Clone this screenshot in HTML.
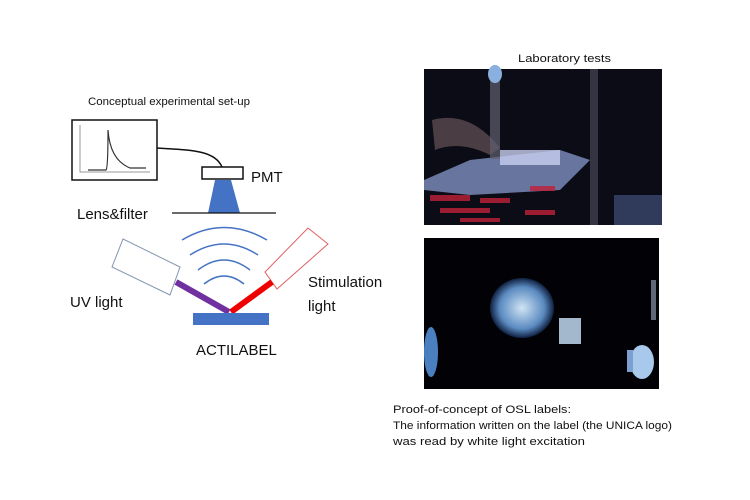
<!DOCTYPE html>
<html><head><meta charset="utf-8"><style>
html,body{margin:0;padding:0;background:#fff;}
svg{display:block;font-family:"Liberation Sans",sans-serif;}
</style></head><body>
<svg width="750" height="500" viewBox="0 0 750 500" xmlns="http://www.w3.org/2000/svg">
<rect width="750" height="500" fill="#fff"/>
<text x="88" y="105" font-size="11" fill="#111" textLength="162" lengthAdjust="spacingAndGlyphs">Conceptual experimental set-up</text>
<!-- monitor -->
<rect x="72" y="120" width="85" height="60" fill="#fff" stroke="#111" stroke-width="1.5"/>
<path d="M80 125 V172 H150" fill="none" stroke="#999" stroke-width="1"/>
<path d="M88 170 H106 Q108 168 108 130 Q110 160 130 168 H146" fill="none" stroke="#333" stroke-width="1.2"/>
<path d="M157 148 C190 150 215 150 222 167" fill="none" stroke="#111" stroke-width="1.5"/>
<!-- PMT -->
<rect x="202" y="167" width="41" height="12" fill="#fff" stroke="#111" stroke-width="1.5"/>
<text x="251" y="182" font-size="15" fill="#111">PMT</text>
<polygon points="215,180 231,180 240,213 208,213" fill="#4472c4"/>
<line x1="172" y1="213" x2="276" y2="213" stroke="#111" stroke-width="1.2"/>
<text x="77" y="219" font-size="15" fill="#111">Lens&amp;filter</text>
<!-- arcs -->
<g fill="none" stroke="#4472c4" stroke-width="1.5">
<path d="M182 240 Q224 215 267 240"/>
<path d="M190 255 Q224 233 258 255"/>
<path d="M198 270 Q224 250 250 270"/>
<path d="M204 284 Q224 268 244 284"/>
</g>
<!-- UV box -->
<polygon points="123,239 180,267 170,295 112,267" fill="#fff" stroke="#8496b0" stroke-width="1"/>
<line x1="176" y1="282" x2="229" y2="312" stroke="#7030a0" stroke-width="6"/>
<!-- stim box -->
<polygon points="308,228 328,244 277,289 265,272" fill="#fff" stroke="#e06060" stroke-width="1"/>
<line x1="272" y1="282" x2="231" y2="312" stroke="#ee0000" stroke-width="6"/>
<rect x="193" y="313" width="76" height="12" fill="#4472c4"/>
<text x="70" y="307" font-size="15" fill="#111">UV light</text>
<text x="308" y="287" font-size="15" fill="#111">Stimulation</text>
<text x="308" y="311" font-size="15" fill="#111">light</text>
<text x="196" y="355" font-size="15" fill="#111">ACTILABEL</text>
<!-- right -->
<text x="518" y="62" font-size="11" fill="#111" textLength="93" lengthAdjust="spacingAndGlyphs">Laboratory tests</text>
<defs>
<radialGradient id="g1" cx="0.55" cy="0.5" r="0.5"><stop offset="0" stop-color="#c8d8f0"/><stop offset="1" stop-color="#2a3a66"/></radialGradient>
<radialGradient id="g2" cx="0.5" cy="0.5" r="0.5"><stop offset="0" stop-color="#d0e4f4"/><stop offset="0.7" stop-color="#5a8ac0"/><stop offset="1" stop-color="#102040"/></radialGradient>
</defs>
<rect x="424" y="69" width="238" height="156" fill="#0c0c16"/>
<polygon points="424,180 470,160 560,150 590,160 560,190 470,195 424,190" fill="#8090c0" opacity="0.8"/>
<rect x="500" y="150" width="60" height="15" fill="#c8d0f0" opacity="0.8"/>
<g fill="#c0203a" opacity="0.8">
<rect x="430" y="195" width="40" height="6"/><rect x="440" y="208" width="50" height="5"/>
<rect x="480" y="198" width="30" height="5"/><rect x="530" y="186" width="25" height="5"/>
<rect x="525" y="210" width="30" height="5"/><rect x="460" y="218" width="40" height="4"/>
</g>
<path d="M432 120 Q470 110 500 148 L490 155 Q460 140 435 150 Z" fill="#5a4a50" opacity="0.8"/>
<rect x="490" y="69" width="10" height="90" fill="#606070" opacity="0.7"/>
<rect x="590" y="69" width="8" height="156" fill="#505060" opacity="0.6"/>
<ellipse cx="495" cy="74" rx="7" ry="9" fill="#8ab0e0"/>
<rect x="614" y="195" width="48" height="30" fill="#303a5a"/>
<rect x="424" y="238" width="235" height="151" fill="#020206"/>
<ellipse cx="522" cy="308" rx="32" ry="30" fill="url(#g2)"/>
<rect x="559" y="318" width="22" height="26" fill="#c0d8f0" opacity="0.85"/>
<ellipse cx="431" cy="352" rx="7" ry="25" fill="#4a80c0"/>
<ellipse cx="642" cy="362" rx="12" ry="17" fill="#a8c8ec"/>
<rect x="627" y="350" width="6" height="22" fill="#7aa0d0"/>
<rect x="651" y="280" width="5" height="40" fill="#606878"/>
<text x="393" y="413" font-size="11" fill="#111" textLength="178" lengthAdjust="spacingAndGlyphs">Proof-of-concept of OSL labels:</text>
<text x="393" y="429" font-size="11" fill="#111" textLength="279" lengthAdjust="spacingAndGlyphs">The information written on the label (the UNICA logo)</text>
<text x="393" y="445" font-size="11" fill="#111" textLength="192" lengthAdjust="spacingAndGlyphs">was read by white light excitation</text>
</svg>
</body></html>
